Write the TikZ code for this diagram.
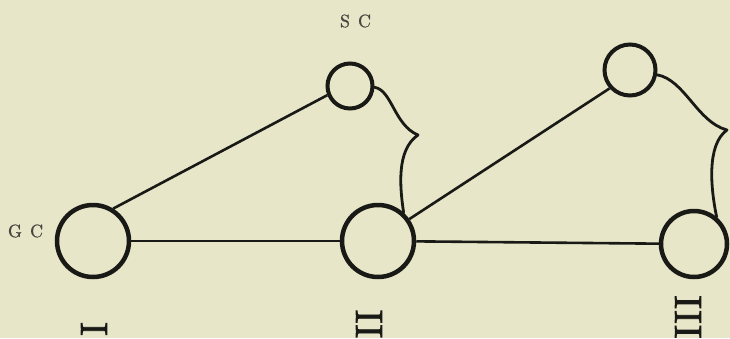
\documentclass[tikz,border=0pt]{standalone}
\usepackage{fontspec}
\newfontfamily\numfont[FakeBold=2]{lmroman10-regular.otf}
\newfontfamily\labfont[FakeBold=0.6]{lmroman10-regular.otf}
\definecolor{paper}{RGB}{232,230,200}
\definecolor{ink}{RGB}{25,25,22}
\definecolor{lab}{RGB}{70,70,64}
\begin{document}
\begin{tikzpicture}[x=1pt,y=-1pt,
  bigc/.style={circle, draw=ink, line width=4.5pt, inner sep=0pt, minimum size=72pt},
  smallc/.style={circle, draw=ink, line width=4pt, inner sep=0pt, minimum size=46pt},
  link/.style={draw=ink, line width=2.6pt},
  bracel/.style={draw=ink, line width=2.8pt, line cap=round, line join=round},
  lbl/.style={text=lab, inner sep=0pt, font=\labfont\fontsize{18}{18}\selectfont},
  numeral/.style={text=ink, rotate=90, inner sep=0pt, font=\numfont\fontsize{38}{38}\selectfont}]
\useasboundingbox (0,0) rectangle (730,338);
\fill[paper] (0,0) rectangle (730,338);
\clip (0,0) rectangle (730,338);
% circles
\node[bigc] (gc) at (93,241) {};
\node[bigc] (mid) at (378,241) {};
\node[bigc, minimum size=66pt] (rc) at (694,244) {};
\node[smallc, minimum size=45pt] (sc) at (350,86) {};
\node[smallc, minimum size=51pt] (tr) at (630,70) {};
% labels
\node[lbl] (gcl) at (25.5,231) {G\hspace{8pt}C};
\node[lbl] (scl) at (355.5,21) {S\hspace{8pt}C};
% links
\draw[link] (gc.58) -- (sc.202);
\draw[link] (gc) -- (mid);
\draw[link] (mid) -- (rc);
\draw[link] (mid.35) -- (tr.222);
% braces
\coordinate (t1) at (418,135);
\draw[bracel] (sc.-3) .. controls (392,90) and (394,125) .. (t1)
  .. controls (396,150) and (400,188) .. (mid.48);
\coordinate (t2) at (727,130);
\draw[bracel] (tr.-10) .. controls (685,80) and (697,122) .. (t2)
  .. controls (706,145) and (711,190) .. (rc.50);
% numerals
\node[numeral] (n1) at (94,329) {I};
\node[numeral] (n2) at (369,324) {II};
\node[numeral] (n3) at (688,317) {III};
\end{tikzpicture}
\end{document}
